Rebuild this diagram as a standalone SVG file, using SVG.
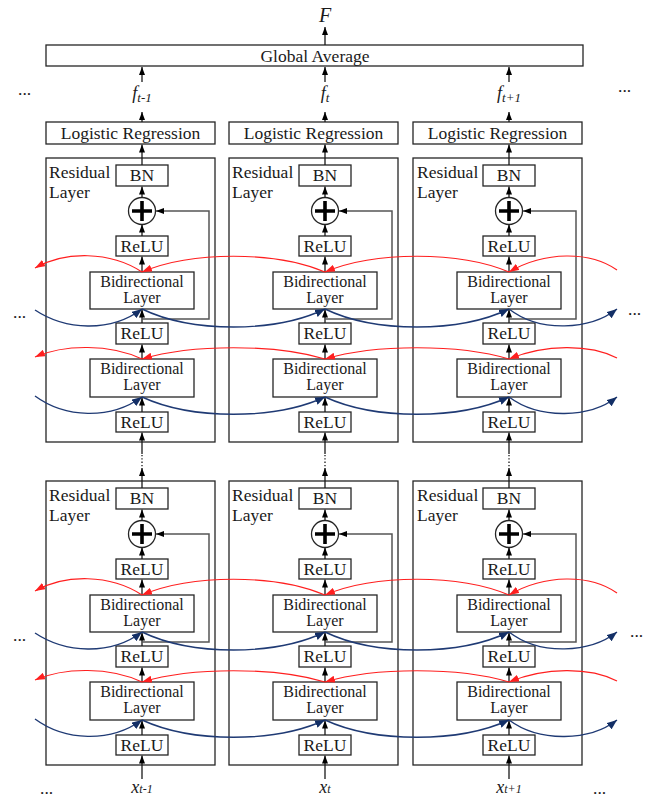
<svg xmlns="http://www.w3.org/2000/svg" width="652" height="798" viewBox="0 0 652 798">
<defs>
<style>
.box{fill:#fff;stroke:#262626;stroke-width:1.3}
text{font-family:'Liberation Serif','DejaVu Serif',serif;fill:#1a1a1a}
.t{font-size:17.5px;text-anchor:middle}
.b{font-size:16px;text-anchor:middle}
.lbl{font-size:17.5px}
.it{font-style:italic;font-size:18px;text-anchor:middle}
.dots{font-size:17.5px}
.plus{stroke:#000;stroke-width:3.6;fill:none}
.ar{fill:none;stroke:#1a1a1a;stroke-width:1.3;marker-end:url(#ah)}
.dot{fill:none;stroke:#1a1a1a;stroke-width:1.3;stroke-dasharray:1.3 2}
.skip{fill:none;stroke:#555;stroke-width:1.5;marker-end:url(#ah)}
.red{fill:none;stroke:#ff1f1f;stroke-width:1.2;marker-end:url(#ahr)}
.blue{fill:none;stroke:#1f3a74;stroke-width:1.4;marker-end:url(#ahb)}
</style>
<marker id="ah" markerUnits="userSpaceOnUse" viewBox="0 0 8 6" markerWidth="8" markerHeight="6" refX="8" refY="3" orient="auto"><path d="M0 0L8 3L0 6z" fill="#000"/></marker>
<marker id="ahr" markerUnits="userSpaceOnUse" viewBox="0 0 10 7" markerWidth="10" markerHeight="7" refX="10" refY="3.5" orient="auto"><path d="M0 0L10 3.5L0 7z" fill="#ff1f1f"/></marker>
<marker id="ahb" markerUnits="userSpaceOnUse" viewBox="0 0 10 8" markerWidth="10" markerHeight="8" refX="10" refY="4" orient="auto"><path d="M0 0L10 4L0 8z" fill="#132f66"/></marker>
</defs>
<rect width="652" height="798" fill="#fff"/>

<g id="nodes" font-family="Liberation Serif, DejaVu Serif, serif">
  <g id="global-average"><rect class="box" x="46" y="45" width="537" height="21"/><text class="t" x="315" y="62">Global Average</text></g>
  <g id="out-F"><text class="it" x="325" y="22" style="font-size:20px">F</text></g>

  <!-- per-column heads and inputs -->
  <g id="col-1" transform="translate(142 0)">
    <g id="lr-1"><rect class="box" x="-96" y="122" width="169" height="22"/><text class="t" x="-11.5" y="139">Logistic Regression</text></g>
    <g id="f-1"><text class="it" x="0" y="99">f<tspan style="font-size:13px" dy="2.5">t-1</tspan></text></g>
    <g id="x-1"><text class="it" x="0" y="793">x<tspan style="font-size:12px">t-1</tspan></text></g>
  </g>
  <g id="col-2" transform="translate(325 0)">
    <g id="lr-2"><rect class="box" x="-96" y="122" width="169" height="22"/><text class="t" x="-11.5" y="139">Logistic Regression</text></g>
    <g id="f-2"><text class="it" x="0" y="99">f<tspan style="font-size:13px" dy="2.5">t</tspan></text></g>
    <g id="x-2"><text class="it" x="0" y="793">x<tspan style="font-size:12px">t</tspan></text></g>
  </g>
  <g id="col-3" transform="translate(509 0)">
    <g id="lr-3"><rect class="box" x="-96" y="122" width="169" height="22"/><text class="t" x="-11.5" y="139">Logistic Regression</text></g>
    <g id="f-3"><text class="it" x="0" y="99">f<tspan style="font-size:13px" dy="2.5">t+1</tspan></text></g>
    <g id="x-3"><text class="it" x="0" y="793">x<tspan style="font-size:12px">t+1</tspan></text></g>
  </g>

  <!-- residual blocks: upper row -->
  <g id="block-1a" transform="translate(142 0)">
    <g id="res-1a"><rect class="box" x="-96" y="158" width="169" height="284"/><text class="lbl" x="-93" y="178">Residual</text><text class="lbl" x="-93" y="198">Layer</text></g>
    <g id="bn-1a"><rect class="box" x="-26" y="165" width="52" height="21"/><text class="t" x="0" y="181">BN</text></g>
    <g id="add-1a"><circle class="box" cx="0" cy="211" r="13.5"/><path class="plus" d="M-10 211H10M0 201V221"/></g>
    <g id="relu-1a1"><rect class="box" x="-26" y="236" width="52" height="20"/><text class="t" x="0" y="252">ReLU</text></g>
    <g id="bi-1a1"><rect class="box" x="-52" y="272" width="104" height="37"/><text class="b" x="0" y="286.5">Bidirectional</text><text class="b" x="0" y="302.5">Layer</text></g>
    <g id="relu-1a2"><rect class="box" x="-26" y="323" width="52" height="21"/><text class="t" x="0" y="339">ReLU</text></g>
    <g id="bi-1a2"><rect class="box" x="-52" y="359" width="104" height="38"/><text class="b" x="0" y="373.5">Bidirectional</text><text class="b" x="0" y="389.5">Layer</text></g>
    <g id="relu-1a3"><rect class="box" x="-26" y="412" width="52" height="20"/><text class="t" x="0" y="428">ReLU</text></g>
  </g>
  <g id="block-2a" transform="translate(325 0)">
    <g id="res-2a"><rect class="box" x="-96" y="158" width="169" height="284"/><text class="lbl" x="-93" y="178">Residual</text><text class="lbl" x="-93" y="198">Layer</text></g>
    <g id="bn-2a"><rect class="box" x="-26" y="165" width="52" height="21"/><text class="t" x="0" y="181">BN</text></g>
    <g id="add-2a"><circle class="box" cx="0" cy="211" r="13.5"/><path class="plus" d="M-10 211H10M0 201V221"/></g>
    <g id="relu-2a1"><rect class="box" x="-26" y="236" width="52" height="20"/><text class="t" x="0" y="252">ReLU</text></g>
    <g id="bi-2a1"><rect class="box" x="-52" y="272" width="104" height="37"/><text class="b" x="0" y="286.5">Bidirectional</text><text class="b" x="0" y="302.5">Layer</text></g>
    <g id="relu-2a2"><rect class="box" x="-26" y="323" width="52" height="21"/><text class="t" x="0" y="339">ReLU</text></g>
    <g id="bi-2a2"><rect class="box" x="-52" y="359" width="104" height="38"/><text class="b" x="0" y="373.5">Bidirectional</text><text class="b" x="0" y="389.5">Layer</text></g>
    <g id="relu-2a3"><rect class="box" x="-26" y="412" width="52" height="20"/><text class="t" x="0" y="428">ReLU</text></g>
  </g>
  <g id="block-3a" transform="translate(509 0)">
    <g id="res-3a"><rect class="box" x="-96" y="158" width="169" height="284"/><text class="lbl" x="-92" y="178">Residual</text><text class="lbl" x="-92" y="198">Layer</text></g>
    <g id="bn-3a"><rect class="box" x="-26" y="165" width="52" height="21"/><text class="t" x="0" y="181">BN</text></g>
    <g id="add-3a"><circle class="box" cx="0" cy="211" r="13.5"/><path class="plus" d="M-10 211H10M0 201V221"/></g>
    <g id="relu-3a1"><rect class="box" x="-26" y="236" width="52" height="20"/><text class="t" x="0" y="252">ReLU</text></g>
    <g id="bi-3a1"><rect class="box" x="-52" y="272" width="104" height="37"/><text class="b" x="0" y="286.5">Bidirectional</text><text class="b" x="0" y="302.5">Layer</text></g>
    <g id="relu-3a2"><rect class="box" x="-26" y="323" width="52" height="21"/><text class="t" x="0" y="339">ReLU</text></g>
    <g id="bi-3a2"><rect class="box" x="-52" y="359" width="104" height="38"/><text class="b" x="0" y="373.5">Bidirectional</text><text class="b" x="0" y="389.5">Layer</text></g>
    <g id="relu-3a3"><rect class="box" x="-26" y="412" width="52" height="20"/><text class="t" x="0" y="428">ReLU</text></g>
  </g>

  <!-- residual blocks: lower row -->
  <g id="block-1b" transform="translate(142 323)">
    <g id="res-1b"><rect class="box" x="-96" y="158" width="169" height="284"/><text class="lbl" x="-93" y="178">Residual</text><text class="lbl" x="-93" y="198">Layer</text></g>
    <g id="bn-1b"><rect class="box" x="-26" y="165" width="52" height="21"/><text class="t" x="0" y="181">BN</text></g>
    <g id="add-1b"><circle class="box" cx="0" cy="211" r="13.5"/><path class="plus" d="M-10 211H10M0 201V221"/></g>
    <g id="relu-1b1"><rect class="box" x="-26" y="236" width="52" height="20"/><text class="t" x="0" y="252">ReLU</text></g>
    <g id="bi-1b1"><rect class="box" x="-52" y="272" width="104" height="37"/><text class="b" x="0" y="286.5">Bidirectional</text><text class="b" x="0" y="302.5">Layer</text></g>
    <g id="relu-1b2"><rect class="box" x="-26" y="323" width="52" height="21"/><text class="t" x="0" y="339">ReLU</text></g>
    <g id="bi-1b2"><rect class="box" x="-52" y="359" width="104" height="38"/><text class="b" x="0" y="373.5">Bidirectional</text><text class="b" x="0" y="389.5">Layer</text></g>
    <g id="relu-1b3"><rect class="box" x="-26" y="412" width="52" height="20"/><text class="t" x="0" y="428">ReLU</text></g>
  </g>
  <g id="block-2b" transform="translate(325 323)">
    <g id="res-2b"><rect class="box" x="-96" y="158" width="169" height="284"/><text class="lbl" x="-93" y="178">Residual</text><text class="lbl" x="-93" y="198">Layer</text></g>
    <g id="bn-2b"><rect class="box" x="-26" y="165" width="52" height="21"/><text class="t" x="0" y="181">BN</text></g>
    <g id="add-2b"><circle class="box" cx="0" cy="211" r="13.5"/><path class="plus" d="M-10 211H10M0 201V221"/></g>
    <g id="relu-2b1"><rect class="box" x="-26" y="236" width="52" height="20"/><text class="t" x="0" y="252">ReLU</text></g>
    <g id="bi-2b1"><rect class="box" x="-52" y="272" width="104" height="37"/><text class="b" x="0" y="286.5">Bidirectional</text><text class="b" x="0" y="302.5">Layer</text></g>
    <g id="relu-2b2"><rect class="box" x="-26" y="323" width="52" height="21"/><text class="t" x="0" y="339">ReLU</text></g>
    <g id="bi-2b2"><rect class="box" x="-52" y="359" width="104" height="38"/><text class="b" x="0" y="373.5">Bidirectional</text><text class="b" x="0" y="389.5">Layer</text></g>
    <g id="relu-2b3"><rect class="box" x="-26" y="412" width="52" height="20"/><text class="t" x="0" y="428">ReLU</text></g>
  </g>
  <g id="block-3b" transform="translate(509 323)">
    <g id="res-3b"><rect class="box" x="-96" y="158" width="169" height="284"/><text class="lbl" x="-92" y="178">Residual</text><text class="lbl" x="-92" y="198">Layer</text></g>
    <g id="bn-3b"><rect class="box" x="-26" y="165" width="52" height="21"/><text class="t" x="0" y="181">BN</text></g>
    <g id="add-3b"><circle class="box" cx="0" cy="211" r="13.5"/><path class="plus" d="M-10 211H10M0 201V221"/></g>
    <g id="relu-3b1"><rect class="box" x="-26" y="236" width="52" height="20"/><text class="t" x="0" y="252">ReLU</text></g>
    <g id="bi-3b1"><rect class="box" x="-52" y="272" width="104" height="37"/><text class="b" x="0" y="286.5">Bidirectional</text><text class="b" x="0" y="302.5">Layer</text></g>
    <g id="relu-3b2"><rect class="box" x="-26" y="323" width="52" height="21"/><text class="t" x="0" y="339">ReLU</text></g>
    <g id="bi-3b2"><rect class="box" x="-52" y="359" width="104" height="38"/><text class="b" x="0" y="373.5">Bidirectional</text><text class="b" x="0" y="389.5">Layer</text></g>
    <g id="relu-3b3"><rect class="box" x="-26" y="412" width="52" height="20"/><text class="t" x="0" y="428">ReLU</text></g>
  </g>

  <!-- continuation marks -->
  <g id="ellipses" class="dots">
    <text class="dots" x="18" y="95">...</text>
    <text class="dots" x="618" y="92">...</text>
    <text class="dots" x="13" y="318">...</text>
    <text class="dots" x="628" y="315">...</text>
    <text class="dots" x="13" y="641">...</text>
    <text class="dots" x="630" y="637">...</text>
    <text class="dots" x="40" y="794">...</text>
    <text class="dots" x="593" y="794">...</text>
  </g>
</g>

<g id="connectors">
  <!-- output side -->
  <path class="ar" d="M325 45V27"/>
  <g id="heads-1" transform="translate(142 0)"><path class="ar" d="M0 82V67"/><path class="ar" d="M0 122V112"/><path class="ar" d="M0 779V755.5"/></g>
  <g id="heads-2" transform="translate(325 0)"><path class="ar" d="M0 82V67"/><path class="ar" d="M0 122V112"/><path class="ar" d="M0 779V755.5"/></g>
  <g id="heads-3" transform="translate(509 0)"><path class="ar" d="M0 82V67"/><path class="ar" d="M0 122V112"/><path class="ar" d="M0 779V755.5"/></g>

  <!-- vertical flow inside each block, plus skip connection -->
  <g id="flow-1a" transform="translate(142 0)">
    <path class="ar" d="M0 165V144.5"/><path class="ar" d="M0 197.5V186.5"/><path class="ar" d="M0 236V224.5"/><path class="ar" d="M0 272V256.5"/><path class="ar" d="M0 323V309.5"/><path class="ar" d="M0 359V344.5"/><path class="ar" d="M0 412V397.5"/><path class="ar" d="M0 454V432.5"/>
    <path class="skip" d="M0 319H67V211H14"/>
    <path class="dot" d="M0 455V467"/>
  </g>
  <g id="flow-2a" transform="translate(325 0)">
    <path class="ar" d="M0 165V144.5"/><path class="ar" d="M0 197.5V186.5"/><path class="ar" d="M0 236V224.5"/><path class="ar" d="M0 272V256.5"/><path class="ar" d="M0 323V309.5"/><path class="ar" d="M0 359V344.5"/><path class="ar" d="M0 412V397.5"/><path class="ar" d="M0 454V432.5"/>
    <path class="skip" d="M0 319H67V211H14"/>
    <path class="dot" d="M0 455V467"/>
  </g>
  <g id="flow-3a" transform="translate(509 0)">
    <path class="ar" d="M0 165V144.5"/><path class="ar" d="M0 197.5V186.5"/><path class="ar" d="M0 236V224.5"/><path class="ar" d="M0 272V256.5"/><path class="ar" d="M0 323V309.5"/><path class="ar" d="M0 359V344.5"/><path class="ar" d="M0 412V397.5"/><path class="ar" d="M0 454V432.5"/>
    <path class="skip" d="M0 319H67V211H14"/>
    <path class="dot" d="M0 455V467"/>
  </g>
  <g id="flow-1b" transform="translate(142 323)">
    <path class="ar" d="M0 165V145"/><path class="ar" d="M0 197.5V186.5"/><path class="ar" d="M0 236V224.5"/><path class="ar" d="M0 272V256.5"/><path class="ar" d="M0 323V309.5"/><path class="ar" d="M0 359V344.5"/><path class="ar" d="M0 412V397.5"/>
    <path class="skip" d="M0 319H67V211H14"/>
  </g>
  <g id="flow-2b" transform="translate(325 323)">
    <path class="ar" d="M0 165V145"/><path class="ar" d="M0 197.5V186.5"/><path class="ar" d="M0 236V224.5"/><path class="ar" d="M0 272V256.5"/><path class="ar" d="M0 323V309.5"/><path class="ar" d="M0 359V344.5"/><path class="ar" d="M0 412V397.5"/>
    <path class="skip" d="M0 319H67V211H14"/>
  </g>
  <g id="flow-3b" transform="translate(509 323)">
    <path class="ar" d="M0 165V145"/><path class="ar" d="M0 197.5V186.5"/><path class="ar" d="M0 236V224.5"/><path class="ar" d="M0 272V256.5"/><path class="ar" d="M0 323V309.5"/><path class="ar" d="M0 359V344.5"/><path class="ar" d="M0 412V397.5"/>
    <path class="skip" d="M0 319H67V211H14"/>
  </g>

  <!-- recurrent links between time steps: backward (red) and forward (blue) -->
  <g id="recurrent-a">
    <path class="red" d="M325 272C275 251 192 251 142 272"/>
    <path class="red" d="M509 272C459 251 375 251 325 272"/>
    <path class="red" d="M142 272C110 251 65 251 35 268"/>
    <path class="red" d="M617 270C590 251 545 251 509 272"/>
    <path class="blue" d="M142 309C192 333 275 333 325 309"/>
    <path class="blue" d="M325 309C375 333 459 333 509 309"/>
    <path class="blue" d="M35 310C65 330 110 333 142 309"/>
    <path class="blue" d="M509 309C540 333 590 330 617 309"/>
    <path class="red" d="M325 359C275 344 192 344 142 359"/>
    <path class="red" d="M509 359C459 344 375 344 325 359"/>
    <path class="red" d="M142 359C110 344 65 344 35 357"/>
    <path class="red" d="M617 358C590 344 545 344 509 359"/>
    <path class="blue" d="M142 397C192 420 275 420 325 397"/>
    <path class="blue" d="M325 397C375 420 459 420 509 397"/>
    <path class="blue" d="M35 396C65 418 110 420 142 397"/>
    <path class="blue" d="M509 397C540 420 590 418 617 397"/>
  </g>
  <g id="recurrent-b" transform="translate(0 323)">
    <path class="red" d="M325 272C275 251 192 251 142 272"/>
    <path class="red" d="M509 272C459 251 375 251 325 272"/>
    <path class="red" d="M142 272C110 251 65 251 35 268"/>
    <path class="red" d="M617 270C590 251 545 251 509 272"/>
    <path class="blue" d="M142 309C192 333 275 333 325 309"/>
    <path class="blue" d="M325 309C375 333 459 333 509 309"/>
    <path class="blue" d="M35 310C65 330 110 333 142 309"/>
    <path class="blue" d="M509 309C540 333 590 330 617 309"/>
    <path class="red" d="M325 359C275 344 192 344 142 359"/>
    <path class="red" d="M509 359C459 344 375 344 325 359"/>
    <path class="red" d="M142 359C110 344 65 344 35 357"/>
    <path class="red" d="M617 358C590 344 545 344 509 359"/>
    <path class="blue" d="M142 397C192 420 275 420 325 397"/>
    <path class="blue" d="M325 397C375 420 459 420 509 397"/>
    <path class="blue" d="M35 396C65 418 110 420 142 397"/>
    <path class="blue" d="M509 397C540 420 590 418 617 397"/>
  </g>
</g>
</svg>
